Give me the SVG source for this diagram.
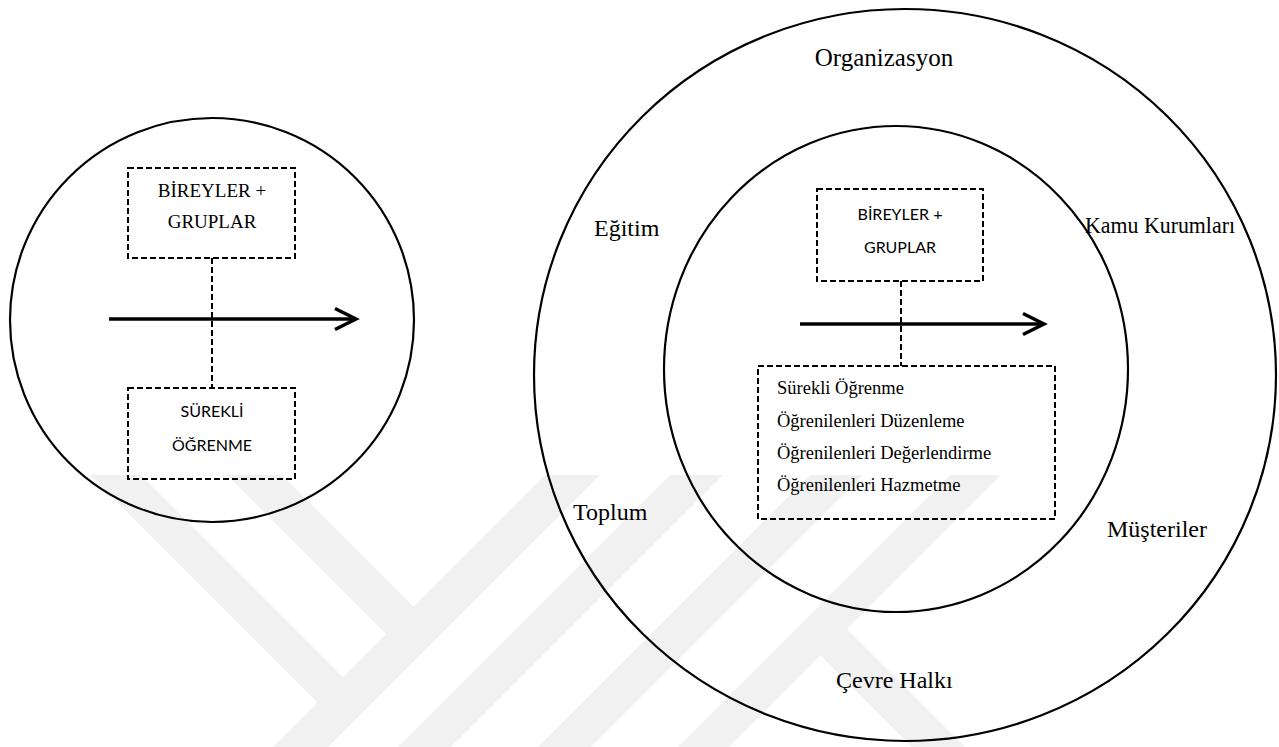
<svg xmlns="http://www.w3.org/2000/svg" width="1279" height="747" viewBox="0 0 1279 747">
  <style>
    .ring { fill: none; stroke: #000; stroke-width: 2.2; }
    .box { fill: none; stroke: #000; stroke-width: 2; stroke-dasharray: 6 3; }
    .link { fill: none; stroke: #000; stroke-width: 2; stroke-dasharray: 6 3; }
    .flow { fill: none; stroke: #000; stroke-width: 3.5; marker-end: url(#chevron); }
    .serif { font-family: "Liberation Serif", "Times New Roman", serif; fill: #000; }
    .sans { font-family: Lato, "Liberation Sans", sans-serif; fill: #000; }
    .lbl { font-size: 24px; }
    .boxtxt { font-size: 19px; }
    .list { font-size: 18.5px; }
    .caps { font-size: 16px; }
    .wm { fill: #f1f1f1; }
  </style>
  <defs>
    <marker id="chevron" markerUnits="userSpaceOnUse" viewBox="0 0 24 24" markerWidth="24" markerHeight="24" refX="22" refY="12" orient="auto" overflow="visible">
      <path d="M1,1.5 L22,12 L1,22.5" fill="none" stroke="#000" stroke-width="3.5"/>
    </marker>
    <clipPath id="wmclip">
      <rect x="0" y="475" width="1279" height="272"/>
    </clipPath>
  </defs>

  <rect width="1279" height="747" fill="#fff"/>

  <!-- faint background emblem -->
  <g id="emblem" clip-path="url(#wmclip)">
    <polygon class="wm" points="90,475 141,475 353,687 327,712"/>
    <polygon class="wm" points="227,475 282,475 423,616 396,644"/>
    <polygon class="wm" points="545,475 600,475 328,747 273,747"/>
    <polygon class="wm" points="670,475 723,475 451,747 398,747"/>
    <polygon class="wm" points="810,475 863,475 591,747 538,747"/>
    <polygon class="wm" points="950,475 1001,475 729,747 678,747"/>
    <polygon class="wm" points="834,616 965,747 912,747 807,642"/>
  </g>

  <!-- left figure -->
  <g id="left-ring">
    <circle class="ring" cx="212" cy="320" r="202"/>
  </g>
  <g id="left-top">
    <rect class="box" x="128" y="168" width="167" height="90"/>
    <text class="serif boxtxt" x="212" y="197" text-anchor="middle">BİREYLER +</text>
    <text class="serif boxtxt" x="212" y="228" text-anchor="middle">GRUPLAR</text>
  </g>
  <g id="left-bottom">
    <rect class="box" x="128" y="388" width="167" height="91"/>
    <text class="sans caps" x="212" y="417" text-anchor="middle">SÜREKLİ</text>
    <text class="sans caps" x="212" y="451" text-anchor="middle">ÖĞRENME</text>
  </g>

  <!-- right figure -->
  <g id="outer-ring">
    <ellipse class="ring" cx="905" cy="375" rx="371" ry="366"/>
    <text class="serif" x="884" y="66" text-anchor="middle" font-size="25">Organizasyon</text>
    <text class="serif lbl" x="594" y="236">Eğitim</text>
    <text class="serif lbl" x="1085" y="233" textLength="150" lengthAdjust="spacingAndGlyphs">Kamu Kurumları</text>
    <text class="serif lbl" x="573" y="520">Toplum</text>
    <text class="serif lbl" x="1107" y="537">Müşteriler</text>
    <text class="serif lbl" x="836" y="688">Çevre Halkı</text>
  </g>
  <g id="inner-ring">
    <ellipse class="ring" cx="896" cy="369" rx="232" ry="243"/>
  </g>
  <g id="right-top">
    <rect class="box" x="817" y="189" width="166" height="92"/>
    <text class="sans caps" x="900" y="220" text-anchor="middle">BİREYLER +</text>
    <text class="sans caps" x="900" y="253" text-anchor="middle">GRUPLAR</text>
  </g>
  <g id="right-bottom">
    <rect class="box" x="758" y="366" width="297" height="153"/>
    <text class="serif list" x="777" y="394">Sürekli Öğrenme</text>
    <text class="serif list" x="777" y="427">Öğrenilenleri Düzenleme</text>
    <text class="serif list" x="777" y="459">Öğrenilenleri Değerlendirme</text>
    <text class="serif list" x="777" y="491">Öğrenilenleri Hazmetme</text>
  </g>

  <!-- connectors -->
  <g id="connectors">
    <line class="link" x1="212" y1="258" x2="212" y2="388"/>
    <line class="flow" x1="109" y1="319" x2="356" y2="319"/>
    <line class="link" x1="901" y1="281" x2="901" y2="366"/>
    <line class="flow" x1="800" y1="324" x2="1044" y2="324"/>
  </g>
</svg>
